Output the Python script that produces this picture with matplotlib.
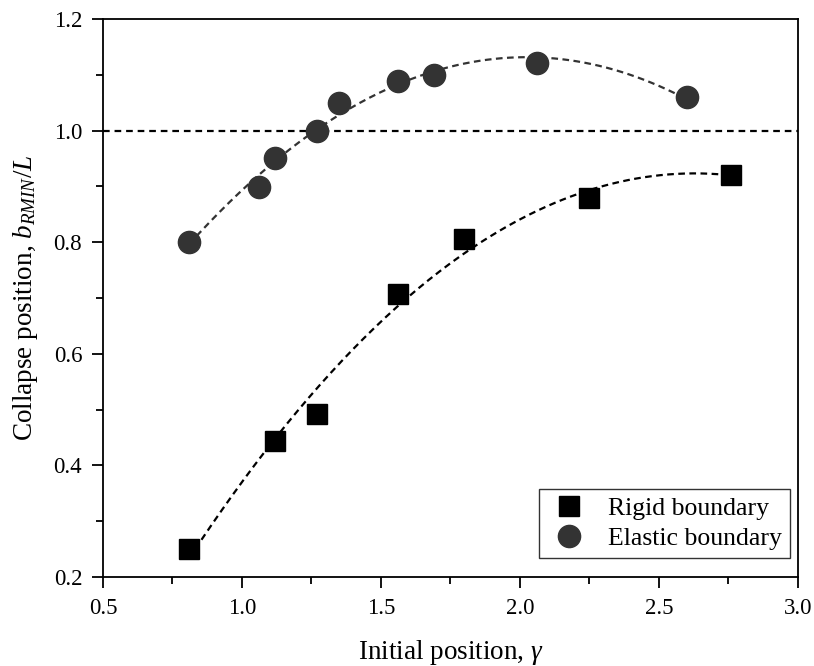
import numpy as np
import matplotlib
matplotlib.use("Agg")
import matplotlib.pyplot as plt

plt.rcParams['font.family'] = ['Liberation Serif', 'DejaVu Serif']
plt.rcParams['mathtext.fontset'] = 'custom'
plt.rcParams['mathtext.rm'] = 'Liberation Serif'
plt.rcParams['mathtext.it'] = 'Liberation Serif:italic'

# rigid boundary results
rigid_x = [0.81, 1.12, 1.27, 1.56, 1.80, 2.25, 2.76]
rigid_y = [0.250, 0.444, 0.493, 0.707, 0.805, 0.880, 0.920]

# elastic boundary results
elastic_x = [0.81, 1.06, 1.12, 1.27, 1.35, 1.56, 1.69, 2.06, 2.60]
elastic_y = [0.800, 0.899, 0.951, 1.000, 1.049, 1.089, 1.100, 1.121, 1.060]

fig = plt.figure(figsize=(8.14, 6.66), dpi=100)
ax = fig.add_axes([0.1265, 0.1336, 0.8538, 0.8379])

# quadratic trend lines through each data set
for xs, ys, col in [(rigid_x, rigid_y, 'black'), (elastic_x, elastic_y, '#333333')]:
    coef = np.polyfit(xs, ys, 2)
    xx = np.linspace(min(xs), max(xs), 200)
    ax.plot(xx, np.polyval(coef, xx), color=col, lw=1.6, ls=(0, (3, 2)), zorder=2)

ax.axhline(1.0, color='black', lw=1.6, ls=(0, (3, 2.2)), zorder=1)

ax.plot(rigid_x, rigid_y, 's', color='black', ms=14, ls='none',
        label='Rigid boundary', zorder=3)
ax.plot(elastic_x, elastic_y, 'o', color='#333333', ms=16, ls='none',
        label='Elastic boundary', zorder=3)

ax.set_xlim(0.5, 3.0)
ax.set_ylim(0.2, 1.2)
ax.set_xticks([0.5, 1.0, 1.5, 2.0, 2.5, 3.0])
ax.set_xticks(np.arange(0.75, 3.0, 0.5), minor=True)
ax.set_yticks([0.2, 0.4, 0.6, 0.8, 1.0, 1.2])
ax.set_yticks(np.arange(0.3, 1.2, 0.2), minor=True)
ax.xaxis.set_major_formatter(plt.FormatStrFormatter('%.1f'))
ax.yaxis.set_major_formatter(plt.FormatStrFormatter('%.1f'))

for s in ax.spines.values():
    s.set_linewidth(1.3)
ax.tick_params(which='both', direction='out', top=False, right=False,
               width=1.3, labelsize=16.5, colors='black')
ax.tick_params(which='major', length=8, pad=7)
ax.tick_params(which='minor', length=5)

ax.set_xlabel(r'Initial position, $\gamma$', fontsize=19.5, labelpad=14)
ax.set_ylabel(r'Collapse position, $b_{RMIN}/L$', fontsize=19.5, labelpad=10)

leg = ax.legend(loc='lower right', bbox_to_anchor=(0.9885, 0.034),
                fontsize=18.5, frameon=True, fancybox=False,
                edgecolor='black', borderpad=0.3, handletextpad=0.7,
                borderaxespad=0.0, labelspacing=0.3, handlelength=1.7)
leg.get_frame().set_linewidth(1.0)

fig.savefig('out.png', dpi=100)
